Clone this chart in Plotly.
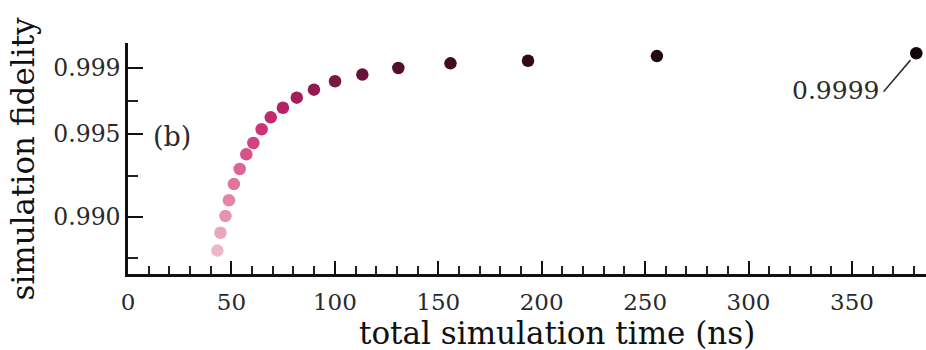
import plotly.graph_objects as go

# Data
total_time_ns = [43.2, 44.7, 47.1, 48.8, 51.2, 54.0, 57.2, 60.6, 64.6, 69.0,
                 74.9, 81.6, 89.9, 100.1, 113.3, 130.7, 155.9, 193.4, 255.7, 381.1]
fidelity = [0.98797, 0.98905, 0.99006, 0.99101, 0.99199, 0.99290, 0.99379, 0.99447,
            0.99530, 0.99602, 0.99660, 0.99721, 0.99769, 0.99820, 0.99860, 0.99900,
            0.99928, 0.99944, 0.99972, 0.99989]

x_major_ticks = [0, 50, 100, 150, 200, 250, 300, 350]
y_major_ticks = [0.990, 0.995, 0.999]
y_major_labels = ["0.990", "0.995", "0.999"]
y_minor_ticks = [0.9875, 0.9925, 0.997]

last_label = "0.9999"
panel_label = "(b)"

colorscale = [
    [0.0, "#ecb8c8"],
    [0.12, "#e88eaa"],
    [0.25, "#dc6a96"],
    [0.36, "#d24482"],
    [0.46, "#c82a70"],
    [0.56, "#ac1e5c"],
    [0.66, "#861848"],
    [0.76, "#5e1032"],
    [0.86, "#3a0a20"],
    [1.0, "#140508"],
]

FONT = "DejaVu Serif"
TXT = "#2a2a2a"

fig = go.Figure()
fig.add_trace(go.Scatter(
    x=total_time_ns, y=fidelity, mode="markers",
    marker=dict(size=12.5, color=list(range(len(fidelity))), colorscale=colorscale,
                line=dict(width=0)),
    hoverinfo="x+y", showlegend=False,
))

fig.update_layout(
    width=926, height=350,
    margin=dict(l=128, r=0, t=43, b=76),
    paper_bgcolor="white", plot_bgcolor="white",
    font=dict(family=FONT, color=TXT, size=23),
    xaxis=dict(
        range=[0, 385.8], showgrid=False, zeroline=False,
        showline=True, linecolor="#111", linewidth=2.5,
        tickmode="array", tickvals=x_major_ticks,
        ticks="inside", ticklen=13, tickwidth=2, tickcolor="#111",
        tickfont=dict(family=FONT, size=23, color=TXT),
        ticklabelstandoff=6,
        minor=dict(dtick=10, tick0=0, ticks="inside", ticklen=8, tickwidth=1.8,
                   tickcolor="#222", showgrid=False),
    ),
    yaxis=dict(
        range=[0.986557, 1.00051], showgrid=False, zeroline=False,
        showline=True, linecolor="#111", linewidth=2.5,
        tickmode="array", tickvals=y_major_ticks, ticktext=y_major_labels,
        ticks="inside", ticklen=15, tickwidth=2, tickcolor="#111",
        tickfont=dict(family=FONT, size=23.5, color=TXT),
        ticklabelstandoff=0,
        minor=dict(tickmode="array", tickvals=y_minor_ticks, ticks="inside",
                   ticklen=10, tickwidth=2, tickcolor="#222", showgrid=False),
    ),
    annotations=[
        dict(text="total simulation time (ns)", xref="paper", yref="paper",
             x=0.537, y=0, yshift=-59, xanchor="center", yanchor="middle",
             showarrow=False, font=dict(family=FONT, size=31, color="#111")),
        dict(text="simulation fidelity", xref="paper", yref="paper",
             x=0, xshift=-106, y=0.5, textangle=-90, xanchor="center", yanchor="middle",
             showarrow=False, font=dict(family=FONT, size=31, color="#111")),
        dict(text=panel_label, xref="paper", yref="paper",
             x=0, xshift=44, y=0.5, yshift=22, xanchor="center", yanchor="middle",
             showarrow=False, font=dict(family=FONT, size=27, color=TXT)),
        dict(text=last_label, xref="x", yref="y",
             x=total_time_ns[-1], y=fidelity[-1], xshift=-81, yshift=-37,
             xanchor="center", yanchor="middle", showarrow=False,
             font=dict(family=FONT, size=25, color=TXT)),
        dict(text="", xref="x", yref="y", x=total_time_ns[-1], y=fidelity[-1],
             showarrow=True, arrowhead=0, arrowwidth=1.6, arrowcolor="#333",
             ax=-34, ay=40, standoff=9),
    ],
)

fig.write_html("out.html")
